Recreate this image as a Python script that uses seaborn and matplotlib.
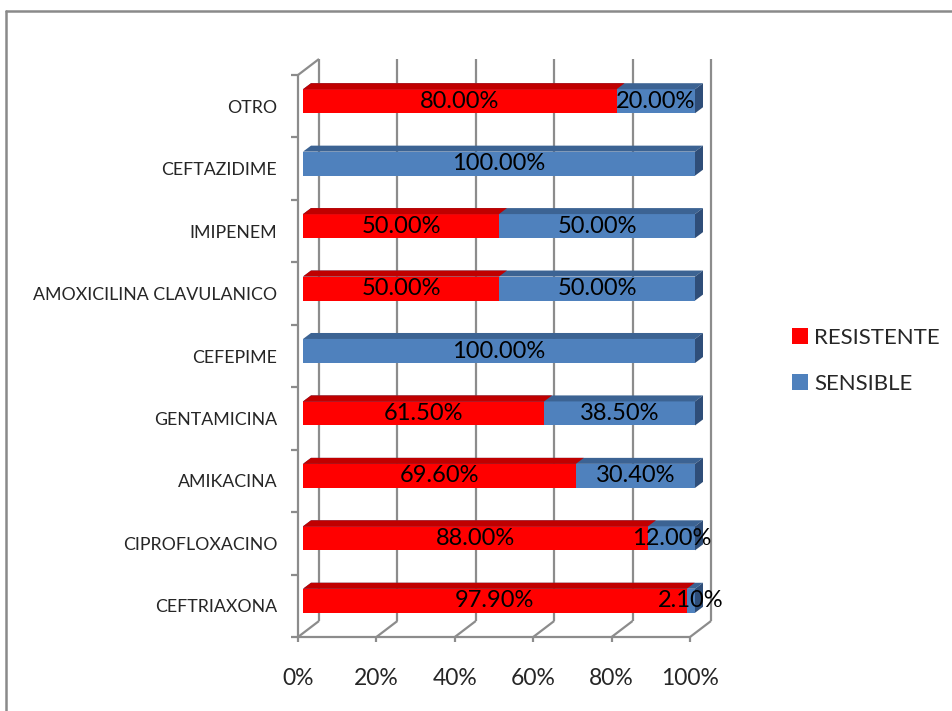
import matplotlib
matplotlib.use("Agg")
import matplotlib.pyplot as plt
import matplotlib.transforms as mtransforms
from matplotlib.patches import Polygon, Patch
from matplotlib.lines import Line2D
import seaborn as sns
import pandas as pd

# Antibiotic susceptibility (percent of isolates)
antibioticos = ["OTRO", "CEFTAZIDIME", "IMIPENEM", "AMOXICILINA CLAVULANICO",
                "CEFEPIME", "GENTAMICINA", "AMIKACINA", "CIPROFLOXACINO", "CEFTRIAXONA"]
resistente = [80.0, 0.0, 50.0, 50.0, 0.0, 61.5, 69.6, 88.0, 97.9]
sensible = [20.0, 100.0, 50.0, 50.0, 100.0, 38.5, 30.4, 12.0, 2.1]
series = ["RESISTENTE", "SENSIBLE"]
x_ticks = [0, 20, 40, 60, 80, 100]
x_tick_labels = ["0%", "20%", "40%", "60%", "80%", "100%"]

RED, RED_TOP = "#FF0000", "#C00000"
BLUE, BLUE_TOP, BLUE_SIDE = "#4F81BD", "#3C6393", "#2F4E79"
GRID = "#8C8C8C"

sns.set_style("white")
plt.rcParams["font.family"] = ["Lato", "DejaVu Sans"]

W, H = 952, 711
fig = plt.figure(figsize=(W / 100, H / 100), dpi=100)
# front plane of the 3-D plot area, in pixels
x0p, x1p, y0p, y1p = 298, 690, 75, 637
ax = fig.add_axes([x0p / W, 1 - y1p / H, (x1p - x0p) / W, (y1p - y0p) / H])

df = pd.DataFrame({"antibiotico": antibioticos,
                   "total": [r + s for r, s in zip(resistente, sensible)],
                   "resistente": resistente})
bar_w = 0.385
sns.barplot(data=df, y="antibiotico", x="total", order=antibioticos, orient="h",
            color=BLUE, saturation=1, width=bar_w, linewidth=0, ax=ax, zorder=3)
sns.barplot(data=df, y="antibiotico", x="resistente", order=antibioticos, orient="h",
            color=RED, saturation=1, width=bar_w, linewidth=0, ax=ax, zorder=3)

n = len(antibioticos)
ax.set_xlim(0, 100)
ax.set_ylim(n - 0.5, -0.5)
for s in ax.spines.values():
    s.set_visible(False)
ax.grid(False)

ppx = (x1p - x0p) / 100.0      # pixels per percent
ppy = (y1p - y0p) / n          # pixels per category


def dx(px):
    return px / ppx


def dy(px):
    return px / ppy


# back wall gridlines, floor edges and left wall
back_dx, back_dy = dx(21), dy(16)
line_kw = dict(color=GRID, lw=1.6, clip_on=False, zorder=1, solid_capstyle="butt")
for t in x_ticks:
    ax.plot([t + back_dx, t + back_dx], [n - 0.5 - back_dy, -0.5 - back_dy], **line_kw)
    ax.plot([t, t + back_dx], [n - 0.5, n - 0.5 - back_dy], **line_kw)
    ax.plot([t, t], [n - 0.5, n - 0.5 + dy(5)], **line_kw)
ax.plot([0, 100], [n - 0.5, n - 0.5], **line_kw)
ax.plot([0, 0], [n - 0.5, -0.5], **line_kw)
ax.plot([0, back_dx], [-0.5, -0.5 - back_dy], **line_kw)
for k in range(n + 1):
    ax.plot([-dx(7), 0], [k - 0.5, k - 0.5], **line_kw)

# bars sit mid-depth: shift front faces back and add top/side faces
depth_tr = mtransforms.offset_copy(ax.transData, fig=fig, x=5, y=5, units="dots")
ddx, ddy = dx(8), dy(6)
blue_bars = ax.patches[:n]
red_bars = ax.patches[n:2 * n]
for bars, top_col in ((blue_bars, BLUE_TOP), (red_bars, RED_TOP)):
    for p in bars:
        p.set_transform(depth_tr)
        p.set_clip_on(False)
        bx, by, bw, bh = p.get_x(), p.get_y(), p.get_width(), p.get_height()
        if bw <= 0:
            continue
        yt = by
        top = Polygon([(bx, yt), (bx + bw, yt), (bx + bw + ddx, yt - ddy), (bx + ddx, yt - ddy)],
                      closed=True, facecolor=top_col, edgecolor="none",
                      transform=depth_tr, zorder=3, clip_on=False)
        ax.add_patch(top)
for p in blue_bars:
    bx, by, bw, bh = p.get_x(), p.get_y(), p.get_width(), p.get_height()
    side = Polygon([(bx + bw, by), (bx + bw + ddx, by - ddy),
                    (bx + bw + ddx, by + bh - ddy), (bx + bw, by + bh)],
                   closed=True, facecolor=BLUE_SIDE, edgecolor="none",
                   transform=depth_tr, zorder=3, clip_on=False)
    ax.add_patch(side)

# value labels centred on each segment
for i, (r, s) in enumerate(zip(resistente, sensible)):
    if r > 0:
        ax.text(r / 2, i, f"{r:.2f}%", transform=depth_tr, ha="center", va="center",
                fontsize=17, color="black", zorder=5, clip_on=False)
    if s > 0:
        ax.text(r + s / 2, i, f"{s:.2f}%", transform=depth_tr, ha="center", va="center",
                fontsize=17, color="black", zorder=5, clip_on=False)

ax.set_xticks(x_ticks, x_tick_labels)
ax.set_yticks(range(n), antibioticos)
ax.tick_params(axis="x", length=0, pad=22, labelsize=16.5)
ax.tick_params(axis="y", length=0, pad=15, labelsize=12.8)
ax.set_xlabel("")
ax.set_ylabel("")

handles = [Patch(facecolor=RED, edgecolor="none"), Patch(facecolor=BLUE, edgecolor="none")]
fig.legend(handles, series, loc="upper left", bbox_to_anchor=(792 / W, 1 - 328 / H),
           frameon=False, borderpad=0, borderaxespad=0, handlelength=0.7,
           handleheight=0.7, handletextpad=0.3, labelspacing=1.15, fontsize=16)

# chart area border
fig.add_artist(Line2D([6 / W, 1.0], [1 - 11 / H, 1 - 11 / H], transform=fig.transFigure,
                      color="#8A8A8A", lw=1.8))
fig.add_artist(Line2D([6 / W, 6 / W], [0, 1 - 11 / H], transform=fig.transFigure,
                      color="#8A8A8A", lw=1.8))

fig.savefig("out.png", dpi=100)
